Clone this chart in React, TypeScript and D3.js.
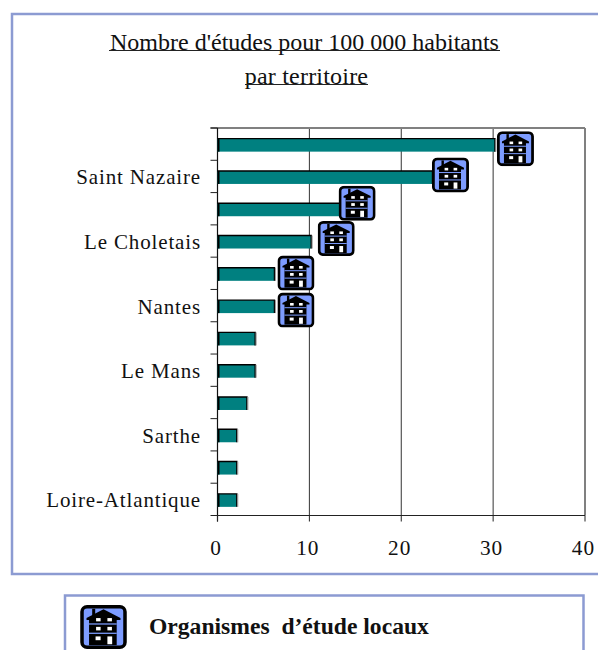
import React from "react";
import * as d3 from "d3";

const categories = ["", "Saint Nazaire", "", "Le Choletais", "", "Nantes", "", "Le Mans", "", "Sarthe", "", "Loire-Atlantique"];
const values = [30.2, 23.4, 14, 10.2, 6.2, 6.2, 4.1, 4.1, 3.2, 2.1, 2.1, 2.1];
const xTickValues = [0, 10, 20, 30, 40];
const titleLines = ["Nombre d'études pour 100 000 habitants", "par territoire"];
const legendLabel = "Organismes  d’étude locaux";
// hand-placed pictogram offsets from each bar's end, as in the source slide
const iconNudgeX = [2, -0.5, -7.5, 6.5, 3, 3];
const iconNudgeY = [-14, -20, -24, -21, -18.7, -14];

const FONT = "'Liberation Serif', 'Times New Roman', serif";
const FRAME = "#8c9bd2";
const TEAL = "#008080";

const x = d3.scaleLinear().domain([0, 40]).range([217.5, 585]);
const y = d3.scaleBand<number>().domain(d3.range(categories.length)).range([128, 515.5]);

function Icon({ px, py, w, h }: { px: number; py: number; w: number; h: number }) {
  return (
    <svg x={px} y={py} width={w} height={h} viewBox="0 0 37 35">
      <rect x="1.4" y="1.4" width="34.2" height="32.2" rx="4" fill="#7d9cff" stroke="#000" strokeWidth="2.8" />
      <rect x="9.5" y="3" width="2.4" height="6" fill="#000" />
      <polygon points="18.5,3.4 32,10.3 32,12 5,12 5,10.3" fill="#000" />
      <rect x="7" y="11" width="22" height="21" fill="#000" />
      <rect x="7" y="14.6" width="22" height="1" fill="#7d9cff" />
      <rect x="7" y="22" width="22" height="1" fill="#7d9cff" />
      <rect x="12.6" y="10.4" width="3.6" height="2.6" fill="#fff" />
      <rect x="21.6" y="10.4" width="3.6" height="2.6" fill="#fff" />
      <rect x="12.6" y="17.4" width="3.6" height="2.8" fill="#fff" />
      <rect x="21.6" y="17.4" width="3.6" height="2.8" fill="#fff" />
      <rect x="12.2" y="25" width="4" height="3" fill="#fff" />
      <rect x="21.6" y="25" width="3.8" height="6.2" fill="#fff" />
    </svg>
  );
}

export default function App() {
  const bh = 13;
  const x0 = x(0);
  const [top, bottom] = y.range();
  const ticksY = d3.range(categories.length + 1).map((i) => top + i * y.step());
  return (
    <svg width={598} height={650} style={{ position: "absolute", left: 0, top: 0, background: "#fff" }} fontFamily={FONT}>
      <rect x={12} y={14} width={600} height={560} fill="none" stroke={FRAME} strokeWidth={2.5} />
      <path d="M65 650V595.5H583.5V650" fill="none" stroke={FRAME} strokeWidth={2.5} />

      <text x={304.5} y={50} textAnchor="middle" fontSize={24} fill="#111">{titleLines[0]}</text>
      <line x1={109} x2={500} y1={50.5} y2={50.5} stroke="#222" strokeWidth={1} />
      <text x={306.5} y={84} textAnchor="middle" fontSize={24} letterSpacing={0.2} fill="#111">{titleLines[1]}</text>
      <line x1={245} x2={368} y1={84.5} y2={84.5} stroke="#222" strokeWidth={1} />

      {xTickValues.slice(1, -1).map((t) => (
        <line key={t} x1={x(t)} x2={x(t)} y1={top} y2={bottom} stroke="#333" strokeWidth={1} />
      ))}
      <line x1={x0 - 7} x2={x(40)} y1={top} y2={top} stroke="#808080" strokeWidth={2} />
      <line x1={x(40)} x2={x(40)} y1={top} y2={bottom} stroke="#808080" strokeWidth={2} />
      <line x1={x0} x2={x0} y1={top} y2={bottom + 6} stroke="#111" strokeWidth={1.2} />
      <line x1={x0 - 6} x2={x(40)} y1={bottom} y2={bottom} stroke="#222" strokeWidth={1.2} />
      {ticksY.map((v) => (
        <line key={v} x1={x0 - 7} x2={x0} y1={v} y2={v} stroke="#222" strokeWidth={1} />
      ))}
      {xTickValues.map((t) => (
        <g key={t}>
          <line x1={x(t)} x2={x(t)} y1={bottom} y2={bottom + 6} stroke="#222" strokeWidth={1} />
          <text x={x(t) - 1.5} y={555} textAnchor="middle" fontSize={21.3} letterSpacing={1} fill="#111">{t}</text>
        </g>
      ))}

      {values.map((v, i) => {
        const cy = (y(i) as number) + y.bandwidth() / 2 + 1;
        return (
          <g key={i}>
            <rect x={x0} y={cy - bh / 2} width={x(v) - x0} height={bh} fill={TEAL} />
            <path d={`M${x0} ${cy - bh / 2}H${x(v)}V${cy + bh / 2}`} fill="none" stroke="#000" strokeWidth={1.4} />
            <rect x={x0} y={cy - bh / 2} width={2} height={bh} fill="#000" />
            <line x1={x(v) + 1} x2={x(v) + 1} y1={cy - bh / 2} y2={cy + bh / 2} stroke="#999" strokeWidth={1} />
            {categories[i] && (
              <text x={201} y={cy + 7} textAnchor="end" fontSize={21} letterSpacing={0.85} fill="#111">{categories[i]}</text>
            )}
          </g>
        );
      })}
      {iconNudgeX.map((dx, i) => {
        const cy = (y(i) as number) + y.bandwidth() / 2 + 1;
        return <Icon key={i} px={x(values[i]) + dx} py={cy + iconNudgeY[i]} w={37} h={35} />;
      })}

      <Icon px={80} py={605} w={47} h={44} />
      <text x={149} y={634} fontSize={23.6} fontWeight="bold" fill="#111" style={{ whiteSpace: "pre" }}>{legendLabel}</text>
    </svg>
  );
}
